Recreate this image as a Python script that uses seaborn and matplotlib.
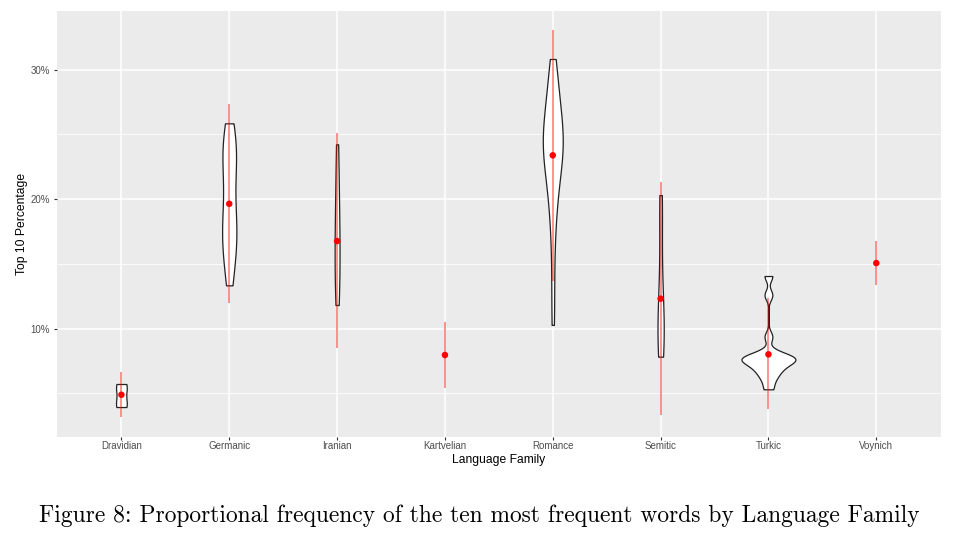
import numpy as np
import pandas as pd
import matplotlib
matplotlib.use("Agg")
import matplotlib.pyplot as plt
import seaborn as sns
from matplotlib.ticker import FixedLocator, FuncFormatter

# ---------------- data ----------------
families = ["Dravidian", "Germanic", "Iranian", "Kartvelian",
            "Romance", "Semitic", "Turkic", "Voynich"]

# per-text "top 10 percentage" values (estimated from the violin shapes)
dravidian_pct = [3.95, 4.25, 5.40, 5.73]
germanic_pct = [13.35, 14.1, 14.9, 15.6, 16.2, 16.7, 17.1, 17.5, 17.9, 18.3,
                18.9, 19.6, 20.4, 21.2, 21.9, 22.5, 23.0, 23.5, 23.9, 24.3,
                24.8, 25.3, 25.86]
iranian_pct = [11.83, 13.3, 14.8, 16.2, 17.7, 19.4, 21.5, 24.24]
romance_pct = [10.29, 13.0, 15.6, 17.6, 18.9, 19.9, 20.7, 21.3, 21.9, 22.4,
               22.8, 23.2, 23.6, 23.9, 24.2, 24.5, 24.8, 25.1, 25.5, 25.9,
               26.3, 26.7, 27.2, 27.8, 28.4, 29.1, 29.9, 30.83]
semitic_pct = [7.84, 8.7, 9.4, 10.1, 10.9, 12.2, 15.5, 19.2, 20.32]
turkic_pct = [5.32, 6.0, 6.45, 6.75, 7.0, 7.25, 7.43, 7.55, 7.65, 7.73,
              7.81, 7.9, 8.15, 9.38, 12.6, 14.07]

# summary (red point = mean, red line = interval)
mean_pct = [4.90, 19.65, 16.77, 7.97, 23.39, 12.32, 8.02, 15.07]
low_pct = [3.16, 11.96, 8.49, 5.44, 13.68, 3.34, 3.78, 13.35]
high_pct = [6.63, 27.33, 25.09, 10.54, 33.07, 21.35, 12.35, 16.80]

y_ticks = [10, 20, 30]
y_minor = [5, 15, 25]
y_limits = (1.66, 34.56)

caption = ("Figure 8: Proportional frequency of the ten most frequent "
           "words by Language Family")

# ---------------- frame ----------------
groups = {"Dravidian": dravidian_pct, "Germanic": germanic_pct,
          "Iranian": iranian_pct, "Romance": romance_pct,
          "Semitic": semitic_pct, "Turkic": turkic_pct}
df = pd.DataFrame([(fam, v) for fam, vals in groups.items() for v in vals],
                  columns=["family", "pct"])


def nrd0_h(x):
    x = np.asarray(x, float)
    sd = np.std(x, ddof=1)
    q75, q25 = np.percentile(x, [75, 25])
    return 0.9 * min(sd, (q75 - q25) / 1.34) * len(x) ** (-0.2)


def nrd0(kde):
    """R's default bandwidth (bw.nrd0), as a gaussian_kde factor."""
    x = np.asarray(kde.dataset).ravel()
    return nrd0_h(x) / np.std(x, ddof=1)


def count_peak(vals):
    """peak of n * density (ggplot 'count' scaling)"""
    x = np.asarray(vals, float)
    h = nrd0_h(x)
    grid = np.linspace(x.min(), x.max(), 512)
    z = (grid[:, None] - x[None, :]) / h
    dens = np.exp(-0.5 * z ** 2).sum(axis=1) / (h * np.sqrt(2 * np.pi))
    return dens.max()


peaks = {f: count_peak(v) for f, v in groups.items()}
max_peak = max(peaks.values())
base_width = 0.5

sns.set_theme(style="darkgrid")
plt.rcParams["font.family"] = ["Liberation Sans", "DejaVu Sans"]

W, H = 968, 537
fig = plt.figure(figsize=(W / 100, H / 100), dpi=100)
fig.patch.set_facecolor("white")
L, R, T, B = 56.7, 941.0, 10.7, 436.7
ax = fig.add_axes([L / W, 1 - B / H, (R - L) / W, (B - T) / H])
ax.set_facecolor("#EBEBEB")

for fam in groups:
    sns.violinplot(data=df[df["family"] == fam], x="family", y="pct",
                   order=families, ax=ax, density_norm="width", cut=0,
                   bw_method=nrd0, gridsize=512, inner=None, fill=True,
                   color="white", saturation=1, linecolor="#222222",
                   linewidth=0.9, width=base_width * peaks[fam] / max_peak)

xpos = np.arange(len(families))
ax.vlines(xpos, low_pct, high_pct, color=(1, 0, 0, 0.5), lw=1.2, zorder=5)
ax.scatter(xpos, mean_pct, s=22, color="#FF0000", edgecolor="none", zorder=6)

# ---------------- axes styling ----------------
ax.set_xlim(-0.6, len(families) - 0.4)
ax.set_ylim(*y_limits)
ax.yaxis.set_major_locator(FixedLocator(y_ticks))
ax.yaxis.set_minor_locator(FixedLocator(y_minor))
ax.yaxis.set_major_formatter(FuncFormatter(lambda v, _: f"{v:.0f}%"))
ax.set_xticks(xpos)
ax.set_xticklabels(families)

ax.set_axisbelow(True)
ax.grid(which="major", color="white", lw=1.1)
ax.grid(which="minor", axis="y", color="white", lw=0.55)
for s in ax.spines.values():
    s.set_visible(False)

ax.tick_params(axis="both", which="major", length=2.4, width=0.8,
               color="#333333", labelcolor="#4D4D4D", labelsize=7,
               bottom=True, left=True)
ax.tick_params(axis="x", pad=1.0)
ax.tick_params(axis="y", pad=2.4)
ax.tick_params(which="minor", length=0)

ax.set_xlabel("Language Family", fontsize=8.7, color="black")
ax.set_ylabel("Top 10 Percentage", fontsize=8.7, color="black")
ax.xaxis.set_label_coords(0.5, (B - 463.3) / (B - T))
ax.xaxis.label.set_va("baseline")
ax.yaxis.set_label_coords((21.8 - L) / (R - L), 0.5)
ax.yaxis.label.set_va("center")

fig.text(478.9 / W, 1 - 521.7 / H, caption, ha="center", va="baseline",
         fontsize=16.9, family=["cmr10", "DejaVu Serif"], color="black")

fig.savefig("out.png", dpi=100, facecolor="white")
